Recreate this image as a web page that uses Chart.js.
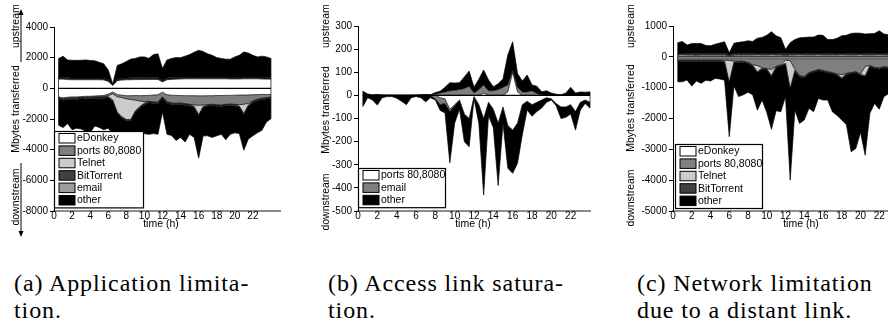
<!DOCTYPE html>
<html lang="en">
<head>
    <meta charset="UTF-8">
    <title>Traffic per application, upstream / downstream</title>
    <script src="https://cdn.jsdelivr.net/npm/chart.js"></script>
    <style>
        body {
            margin: 0;
            width: 888px;
            height: 327px;
            overflow: hidden;
            position: relative;
            background: #ffffff;
        }
        canvas {
            position: absolute;
            top: 0;
        }
        .cap {
            position: absolute;
            top: 270px;
            font-family: 'Liberation Serif', 'Times New Roman', serif;
            font-size: 24px;
            line-height: 27px;
            letter-spacing: 0.9px;
            color: #000;
            white-space: nowrap;
        }
    </style>
</head>
<body>
    <canvas id="chartA" width="296" height="245" style="left:0px"></canvas>
    <canvas id="chartB" width="296" height="245" style="left:300px"></canvas>
    <canvas id="chartC" width="310" height="245" style="left:600px"></canvas>

    <div class="cap" style="left:14px">(a) Application limita-<br>tion.</div>
    <div class="cap" style="left:328px">(b) Access link satura-<br>tion.</div>
    <div class="cap" style="left:637px">(c) Network limitation<br>due to a distant link.</div>

    <script>
        // time of day (h), one sample every half hour
        const timeH = [
            0.5, 1, 1.5, 2, 2.5, 3, 3.5, 4,
            4.5, 5, 5.5, 6, 6.5, 7, 7.5, 8,
            8.5, 9, 9.5, 10, 10.5, 11, 11.5, 12,
            12.5, 13, 13.5, 14, 14.5, 15, 15.5, 16,
            16.5, 17, 17.5, 18, 18.5, 19, 19.5, 20,
            20.5, 21, 21.5, 22, 22.5, 23, 23.5, 24
        ];
        const xTickValues = [0, 2, 4, 6, 8, 10, 12, 14, 16, 18, 20, 22];

        // ---- (a) application limitation ----
        const aCategories = ['eDonkey', 'ports 80,8080', 'Telnet', 'BitTorrent', 'email', 'other'];
        const aUpEDonkey = [
            600, 600, 570, 560, 560, 560, 560, 560,
            560, 560, 550, 450, 180, 500, 540, 560,
            560, 570, 570, 580, 580, 580, 580, 420,
            560, 580, 600, 610, 620, 620, 620, 620,
            620, 620, 620, 620, 620, 620, 610, 610,
            610, 620, 620, 620, 620, 610, 600, 600
        ];
        const aUpPorts = [
            40, 45, 40, 40, 35, 40, 40, 40,
            40, 40, 40, 35, 20, 35, 40, 40,
            45, 40, 40, 40, 45, 40, 40, 30,
            40, 40, 45, 40, 40, 40, 45, 40,
            40, 40, 40, 45, 40, 40, 40, 40,
            45, 40, 40, 40, 40, 40, 40, 40
        ];
        const aUpTelnet = [
            10, 10, 10, 10, 10, 10, 10, 10,
            10, 10, 10, 10, 5, 10, 10, 10,
            10, 10, 10, 10, 10, 10, 10, 10,
            10, 10, 10, 10, 10, 10, 10, 10,
            10, 10, 10, 10, 10, 10, 10, 10,
            10, 10, 10, 10, 10, 10, 10, 10
        ];
        const aUpBitTorrent = [
            40, 40, 40, 40, 40, 40, 40, 40,
            40, 40, 40, 40, 20, 40, 40, 40,
            40, 40, 40, 40, 40, 40, 40, 40,
            40, 40, 40, 40, 40, 40, 40, 40,
            40, 40, 40, 40, 40, 40, 40, 40,
            40, 40, 40, 40, 40, 40, 40, 40
        ];
        const aUpEmail = [
            30, 30, 30, 30, 30, 30, 30, 30,
            30, 30, 30, 30, 10, 30, 30, 30,
            30, 30, 30, 30, 30, 30, 30, 30,
            30, 30, 30, 30, 30, 30, 30, 30,
            30, 30, 30, 30, 30, 30, 30, 30,
            30, 30, 30, 30, 30, 30, 30, 30
        ];
        const aUpOther = [
            1220, 1370, 1160, 1150, 1150, 1150, 1170, 1140,
            1120, 1020, 930, 630, 40, 880, 940, 1070,
            1220, 1260, 1360, 1350, 1250, 1500, 1550, 770,
            1170, 1250, 1280, 1270, 1360, 1460, 1610, 1740,
            1660, 1510, 1410, 1260, 1210, 1160, 1170, 1320,
            1420, 1630, 1560, 1410, 1310, 1370, 1330, 1230
        ];
        const aDnEDonkey = [
            -560, -620, -580, -560, -560, -540, -520, -520,
            -500, -480, -460, -380, -240, -400, -450, -480,
            -480, -470, -480, -470, -460, -440, -420, -250,
            -420, -450, -460, -470, -480, -480, -480, -490,
            -490, -480, -480, -470, -470, -460, -460, -450,
            -440, -440, -430, -420, -410, -400, -400, -400
        ];
        const aDnPorts = [
            -60, -80, -60, -60, -60, -60, -60, -60,
            -60, -70, -80, -90, -120, -150, -150, -200,
            -250, -300, -350, -400, -380, -450, -480, -300,
            -450, -500, -520, -480, -520, -560, -600, -620,
            -600, -580, -560, -600, -620, -580, -560, -600,
            -620, -600, -560, -400, -300, -250, -200, -180
        ];
        const aDnTelnet = [
            -20, -20, -20, -20, -20, -20, -20, -20,
            -20, -20, -20, -60, -400, -1000, -1250, -1350,
            -1300, -700, -350, -100, -20, -20, -20, -20,
            -20, -20, -20, -20, -20, -20, -100, -600,
            -100, -20, -20, -20, -20, -20, -20, -20,
            -100, -600, -100, -20, -20, -20, -20, -20
        ];
        const aDnBitTorrent = [
            -40, -40, -40, -40, -40, -40, -40, -40,
            -40, -40, -40, -40, -40, -40, -40, -40,
            -40, -40, -40, -40, -40, -40, -40, -40,
            -40, -40, -40, -40, -40, -40, -40, -40,
            -40, -40, -40, -40, -40, -40, -40, -40,
            -40, -40, -40, -40, -40, -40, -40, -40
        ];
        const aDnEmail = [
            -40, -40, -40, -40, -40, -40, -40, -40,
            -40, -40, -40, -40, -40, -40, -40, -40,
            -40, -40, -40, -40, -40, -40, -40, -40,
            -40, -40, -40, -40, -40, -40, -40, -40,
            -40, -40, -40, -40, -40, -40, -40, -40,
            -40, -40, -40, -40, -40, -40, -40, -40
        ];
        const aDnOther = [
            -1690, -1760, -1560, -1980, -1880, -1950, -2120, -2220,
            -1790, -1900, -2060, -1990, -2160, -1370, -1070, -890,
            -890, -1450, -1740, -1910, -2060, -1960, -2000, -900,
            -2030, -2020, -2320, -2150, -2400, -1860, -1940, -2760,
            -1830, -1940, -2060, -1930, -1810, -2210, -1880, -1750,
            -1710, -2320, -2130, -2180, -2090, -1990, -1500, -1300
        ];

        // ---- (b) access link saturation ----
        const bCategories = ['ports 80,8080', 'email', 'other'];
        const bUpPorts = [
            0, 0, 0, 0, 0, 0, 0, 0,
            0, 0, 0, 0, 0, 0, 0, 0,
            0, 0, 0, 0, 0, 0, 0, 0,
            0, 10, 0, 0, 0, 0, 15, 100,
            15, 0, 0, 0, 0, 0, 0, 0,
            0, 0, 0, 0, 0, 0, 0, 0
        ];
        const bUpEmail = [
            0, 0, 0, 0, 0, 0, 0, 0,
            0, 0, 0, 0, 0, 0, 0, 5,
            10, 15, 20, 22, 25, 30, 40, 10,
            25, 35, 20, 20, 25, 35, 30, 10,
            20, 15, 15, 20, 8, 3, 0, 0,
            0, 0, 0, 0, 0, 0, 0, 0
        ];
        const bUpOther = [
            18, 6, 2, 4, 2, 1, 1, 1,
            1, 1, 1, 2, 3, 4, 3, 7,
            8, 20, 35, 31, 30, 50, 65, 25,
            45, 65, 47, 17, 25, 37, 130, 122,
            60, 47, 73, 25, 32, 13, 20, 10,
            5, 3, 10, 35, 10, 15, 14, 15
        ];
        const bDnPorts = [
            0, 0, 0, 0, 0, 0, 0, 0,
            0, 0, 0, 0, 0, 0, 0, 0,
            -10, -15, -60, -40, -20, -80, -100, -5,
            -40, -100, -30, -60, -120, -50, -130, -150,
            -120, -40, -25, -40, -30, -20, -10, -15,
            -35, -50, -50, -40, -70, -30, -20, -30
        ];
        const bDnEmail = [
            0, 0, 0, 0, 0, 0, 0, 0,
            0, 0, 0, 0, 0, 0, 0, -15,
            -30, -20, -10, -5, 0, 0, 0, 0,
            0, 0, 0, 0, 0, 0, 0, 0,
            0, 0, 0, 0, 0, 0, 0, 0,
            0, 0, 0, 0, 0, 0, 0, 0
        ];
        const bDnOther = [
            -48, -10, -20, -42, -10, -5, -5, -12,
            -25, -40, -10, -5, -10, -28, -10, -5,
            -25, -41, -222, -75, -40, -120, -122, -10,
            -80, -331, -58, -80, -270, -71, -185, -187,
            -174, -130, -38, -50, -40, -35, -20, -5,
            -10, -50, -45, -40, -80, -33, -15, -25
        ];

        // ---- (c) network limitation due to a distant link ----
        const cCategories = ['eDonkey', 'ports 80,8080', 'Telnet', 'BitTorrent', 'other'];
        const cUpEDonkey = [
            50, 55, 50, 50, 45, 50, 50, 50,
            50, 50, 50, 30, 50, 50, 50, 50,
            50, 55, 50, 50, 55, 50, 50, 40,
            50, 50, 55, 50, 50, 50, 55, 50,
            50, 50, 50, 55, 50, 50, 50, 55,
            50, 50, 50, 55, 50, 50, 50, 50
        ];
        const cUpPorts = [
            30, 30, 30, 30, 30, 30, 30, 30,
            30, 30, 30, 20, 30, 30, 30, 30,
            30, 30, 30, 30, 30, 30, 30, 30,
            30, 30, 30, 30, 30, 30, 30, 30,
            30, 30, 30, 30, 30, 30, 30, 30,
            30, 30, 30, 30, 30, 30, 30, 30
        ];
        const cUpTelnet = [
            10, 10, 10, 10, 10, 10, 10, 10,
            10, 10, 10, 10, 10, 10, 10, 10,
            10, 10, 10, 10, 10, 10, 10, 10,
            10, 10, 10, 10, 10, 10, 10, 10,
            10, 10, 10, 10, 10, 10, 10, 10,
            10, 10, 10, 10, 10, 10, 10, 10
        ];
        const cUpBitTorrent = [
            30, 30, 30, 30, 30, 30, 30, 30,
            30, 30, 30, 20, 30, 30, 30, 30,
            30, 30, 30, 30, 30, 30, 30, 30,
            30, 30, 30, 30, 30, 30, 30, 30,
            30, 30, 30, 30, 30, 30, 30, 30,
            30, 30, 30, 30, 30, 30, 30, 30
        ];
        const cUpOther = [
            340, 370, 260, 310, 320, 310, 250, 240,
            290, 330, 370, 50, 320, 350, 370, 400,
            380, 480, 510, 580, 690, 560, 500, 130,
            340, 440, 490, 510, 520, 520, 580, 580,
            440, 440, 480, 560, 580, 640, 650, 640,
            620, 630, 640, 720, 620, 600, 640, 620
        ];
        const cDnEDonkey = [
            -60, -60, -60, -60, -60, -60, -60, -60,
            -60, -60, -60, -60, -60, -60, -60, -60,
            -60, -60, -60, -60, -60, -60, -60, -60,
            -60, -60, -60, -60, -60, -60, -60, -60,
            -60, -60, -60, -60, -60, -60, -60, -60,
            -60, -60, -60, -60, -60, -60, -60, -60
        ];
        const cDnPorts = [
            -50, -50, -50, -50, -50, -50, -50, -50,
            -50, -50, -50, -60, -80, -80, -80, -120,
            -200, -220, -300, -320, -350, -250, -200, -50,
            -60, -350, -550, -580, -450, -400, -350, -380,
            -420, -450, -500, -520, -480, -450, -420, -500,
            -250, -220, -280, -300, -260, -280, -280, -280
        ];
        const cDnTelnet = [
            -10, -10, -10, -10, -10, -10, -10, -10,
            -10, -10, -30, -700, -30, -10, -10, -10,
            -10, -200, -10, -10, -200, -10, -10, -100,
            -900, -30, -10, -10, -10, -10, -10, -10,
            -10, -10, -10, -100, -10, -10, -10, -10,
            -300, -10, -10, -10, -10, -10, -10, -10
        ];
        const cDnBitTorrent = [
            -30, -30, -30, -30, -30, -30, -30, -30,
            -30, -30, -30, -30, -30, -30, -30, -30,
            -30, -30, -30, -30, -30, -30, -30, -30,
            -30, -30, -30, -30, -30, -30, -30, -30,
            -30, -30, -30, -30, -30, -30, -30, -30,
            -30, -30, -30, -30, -30, -30, -30, -30
        ];
        const cDnOther = [
            -660, -660, -600, -800, -630, -710, -610, -630,
            -550, -570, -590, -1740, -750, -1110, -1050, -930,
            -930, -1220, -1000, -1380, -1710, -1400, -1480, -1050,
            -2950, -1260, -1510, -1370, -1120, -1280, -900, -920,
            -880, -1230, -1300, -1340, -1620, -2530, -2450, -1850,
            -2550, -1510, -1130, -1300, -930, -820, -870, -920
        ];

        // grey levels of the areas (styles, not data)
        const greys6 = ['#ffffff', '#7f7f7f', '#cbcbcb', '#404040', '#9c9c9c', '#000000'];
        const greys3 = ['#ffffff', '#7f7f7f', '#000000'];
        const greys5 = ['#ffffff', '#7f7f7f', '#cbcbcb', '#404040', '#000000'];

        Chart.defaults.font.family = "'Liberation Sans', Arial, sans-serif";
        Chart.defaults.font.size = 10;
        Chart.defaults.color = '#000';

        function areaSet(label, values, color, stack, first) {
            return {
                label: label,
                data: values.map((v, i) => ({ x: timeH[i], y: v })),
                backgroundColor: color,
                borderColor: '#000',
                borderWidth: 0.7,
                fill: first ? 'origin' : '-1',
                stack: stack,
                pointRadius: 0,
                tension: 0
            };
        }

        function stackSets(categories, colors, upArrays, downArrays) {
            const sets = [];
            upArrays.forEach((vals, i) => sets.push(areaSet(categories[i], vals, colors[i], 'up', i === 0)));
            downArrays.forEach((vals, i) => sets.push(areaSet(categories[i], vals, colors[i], 'down', i === 0)));
            return sets;
        }

        // y label, arrows, x title, legend box, zero line
        const decorPlugin = {
            id: 'decor',
            afterDatasetsDraw(chart, args, o) {
                const ctx = chart.ctx;
                const xs = chart.scales.x, ys = chart.scales.y;
                const n = chart.data.datasets.length;
                const top = chart.getDatasetMeta(n / 2 - 1).data;
                const bot = chart.getDatasetMeta(n - 1).data;
                ctx.save();
                ctx.strokeStyle = '#000';
                ctx.lineWidth = 0.7;
                [0, top.length - 1].forEach(i => {
                    ctx.beginPath();
                    ctx.moveTo(top[i].x, top[i].y);
                    ctx.lineTo(bot[i].x, bot[i].y);
                    ctx.stroke();
                });
                const yz = ys.getPixelForValue(0);
                ctx.lineWidth = 1.2;
                ctx.beginPath();
                ctx.moveTo(xs.getPixelForValue(timeH[0]), yz);
                ctx.lineTo(xs.getPixelForValue(timeH[timeH.length - 1]), yz);
                ctx.stroke();
                ctx.restore();
            },
            afterDraw(chart, args, o) {
                const ctx = chart.ctx;
                ctx.save();
                ctx.fillStyle = '#000';
                ctx.strokeStyle = '#000';
                ctx.font = "10.5px 'Liberation Sans', Arial, sans-serif";

                const vtext = (txt, x, y, align) => {
                    ctx.save();
                    ctx.translate(x, y);
                    ctx.rotate(-Math.PI / 2);
                    ctx.textAlign = align;
                    ctx.textBaseline = 'middle';
                    ctx.fillText(txt, 0, 0);
                    ctx.restore();
                };
                vtext('upstream', o.labelX, o.upEnd, 'left');
                vtext('Mbytes transferred', o.labelX, o.midY, 'center');
                vtext('downstream', o.labelX, o.downMid, 'center');

                if (o.arrows) {
                    const ax = o.labelX + 5;
                    ctx.lineWidth = 1;
                    ctx.beginPath();
                    ctx.moveTo(ax, 62); ctx.lineTo(ax, 13);
                    ctx.moveTo(ax, 163); ctx.lineTo(ax, 233);
                    ctx.stroke();
                    ctx.beginPath();
                    ctx.moveTo(ax, 9); ctx.lineTo(ax - 2.5, 15); ctx.lineTo(ax + 2.5, 15); ctx.closePath();
                    ctx.moveTo(ax, 237); ctx.lineTo(ax - 2.5, 231); ctx.lineTo(ax + 2.5, 231); ctx.closePath();
                    ctx.fill();
                }

                ctx.textAlign = 'center';
                ctx.textBaseline = 'middle';
                ctx.fillText('time (h)', o.titleX, 224);

                const L = o.legend;
                const h = L.labels.length * 12.4 + 2;
                ctx.fillStyle = '#fff';
                ctx.fillRect(L.x, L.y, L.w, h);
                ctx.lineWidth = 1.2;
                ctx.strokeRect(L.x + 0.5, L.y + 0.5, L.w, h);
                ctx.lineWidth = 1;
                ctx.textAlign = 'left';
                L.labels.forEach((lab, i) => {
                    const sy = L.y + 2.5 + i * 12.4;
                    ctx.fillStyle = L.colors[i];
                    ctx.fillRect(L.x + 5, sy, 16, 9.5);
                    ctx.strokeRect(L.x + 5, sy, 16, 9.5);
                    ctx.fillStyle = '#000';
                    ctx.fillText(lab, L.x + 23, sy + 5);
                });
                ctx.restore();
            }
        };

        function makeChart(id, cfg) {
            return new Chart(document.getElementById(id), {
                type: 'line',
                data: { datasets: stackSets(cfg.categories, cfg.colors, cfg.up, cfg.down) },
                options: {
                    responsive: false,
                    animation: false,
                    events: [],
                    layout: { padding: { top: cfg.top, right: cfg.right, left: 0, bottom: 0 } },
                    elements: { line: { borderJoinStyle: 'bevel' } },
                    plugins: {
                        legend: { display: false },
                        tooltip: { enabled: false },
                        decor: cfg.decor
                    },
                    scales: {
                        x: {
                            type: 'linear',
                            min: 0,
                            max: cfg.xMax,
                            grid: { display: false, drawTicks: false },
                            border: { color: '#8c8c8c', width: 2 },
                            ticks: { padding: -1, maxRotation: 0, autoSkip: false },
                            afterBuildTicks: s => { s.ticks = xTickValues.map(v => ({ value: v })); },
                            afterFit: s => { s.height = 245 - cfg.bottom; }
                        },
                        y: {
                            stacked: true,
                            min: cfg.yMin,
                            max: cfg.yMax,
                            ticks: { stepSize: cfg.yStep, padding: 2, callback: v => String(v) },
                            grid: { drawOnChartArea: false, tickLength: 4, color: '#000' },
                            border: { color: '#000', width: 1 },
                            afterFit: s => { s.width = cfg.left; }
                        }
                    }
                },
                plugins: [decorPlugin]
            });
        }

        makeChart('chartA', {
            categories: aCategories, colors: greys6,
            up: [aUpEDonkey, aUpPorts, aUpTelnet, aUpBitTorrent, aUpEmail, aUpOther],
            down: [aDnEDonkey, aDnPorts, aDnTelnet, aDnBitTorrent, aDnEmail, aDnOther],
            left: 54, right: 16, top: 27, bottom: 211, xMax: 25,
            yMin: -8000, yMax: 4000, yStep: 2000,
            decor: {
                labelX: 16, upEnd: 48, midY: 109, downMid: 197, arrows: true, titleX: 161,
                legend: { x: 54, y: 131, w: 89, labels: aCategories, colors: greys6 }
            }
        });

        makeChart('chartB', {
            categories: bCategories, colors: greys3,
            up: [bUpPorts, bUpEmail, bUpOther],
            down: [bDnPorts, bDnEmail, bDnOther],
            left: 58, right: 6, top: 26, bottom: 211, xMax: 24,
            yMin: -500, yMax: 300, yStep: 100,
            decor: {
                labelX: 26, upEnd: 48, midY: 110, downMid: 202, arrows: false, titleX: 173,
                legend: { x: 58, y: 168, w: 87, labels: bCategories, colors: greys3 }
            }
        });

        makeChart('chartC', {
            categories: cCategories, colors: greys5,
            up: [cUpEDonkey, cUpPorts, cUpTelnet, cUpBitTorrent, cUpOther],
            down: [cDnEDonkey, cDnPorts, cDnTelnet, cDnBitTorrent, cDnOther],
            left: 73, right: 12, top: 26, bottom: 211, xMax: 24,
            yMin: -5000, yMax: 1000, yStep: 1000,
            decor: {
                labelX: 31, upEnd: 48, midY: 108, downMid: 198, arrows: false, titleX: 201,
                legend: { x: 75, y: 144, w: 87, labels: cCategories, colors: greys5 }
            }
        });
    </script>
</body>
</html>
